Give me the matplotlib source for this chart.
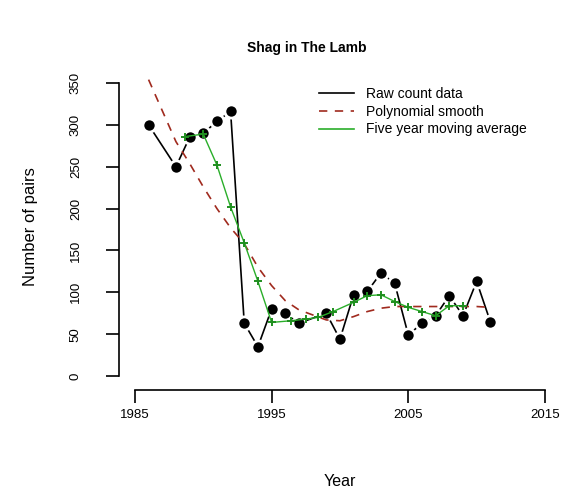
import matplotlib
matplotlib.use("Agg")
import matplotlib.pyplot as plt
from matplotlib.lines import Line2D

plt.rcParams['font.family'] = ['Liberation Sans', 'DejaVu Sans']

# Raw count data
years = [1986, 1988, 1989, 1990, 1991, 1992, 1993, 1994, 1995, 1996, 1997,
         1999, 2000, 2001, 2002, 2003, 2004, 2005, 2006, 2007, 2008, 2009, 2010, 2011]
pairs = [300, 250, 285, 290, 304, 316, 63, 35, 80, 75, 63,
         75, 44, 97, 101, 123, 111, 49, 63, 72, 96, 72, 113, 65]

# Polynomial smooth (evaluated at the data years)
smooth = [354, 280, 254, 226, 200, 177, 158, 130, 108, 90, 79,
          67, 66, 71, 77, 81, 83, 83, 83, 83, 83, 83, 83, 82]

# Five year moving average
ma_years = [1988.7, 1990, 1991, 1992, 1993, 1994, 1995, 1996.4, 1997.5, 1998.4,
            1999.5, 2001, 2002, 2003, 2004, 2005, 2006, 2007, 2008, 2009]
ma_vals = [286, 289, 252, 202, 159, 113, 64, 66, 68, 70,
           77, 88, 96, 97, 89, 82, 77, 72, 84, 84]

x_ticks = [1985, 1995, 2005, 2015]
y_ticks = [0, 50, 100, 150, 200, 250, 300, 350]

title = "Shag in The Lamb"
xlabel = "Year"
ylabel = "Number of pairs"
legend_labels = ["Raw count data", "Polynomial smooth", "Five year moving average"]

W, H = 572, 491
fig = plt.figure(figsize=(W / 100, H / 100), dpi=100)
ax = fig.add_axes([118.5 / W, (H - 390) / H, (561.4 - 118.5) / W, (390 - 69) / H])

red = '#a02a1e'
green = '#2aae2a'
green_dark = '#1f8f1f'

ax.plot(years, pairs, color='black', lw=1.2, zorder=2)
ax.plot(years, pairs, ls='none', marker='o', ms=9.5, mfc='black', mec='white',
        mew=2.0, zorder=3)
ax.plot(years, smooth, color=red, lw=1.2, dashes=(5, 4.5), zorder=4)
ax.plot(ma_years, ma_vals, color=green, lw=1.0, zorder=5)
ax.plot(ma_years, ma_vals, ls='none', marker='+', ms=6, mew=1.4, color=green_dark, zorder=6)

ax.set_xlim(1983.8, 2016.2)
ax.set_ylim(-16.7, 366.7)
for s in ['top', 'right']:
    ax.spines[s].set_visible(False)
ax.spines['left'].set_bounds(0, 350)
ax.spines['bottom'].set_bounds(1985, 2015)
for s in ['left', 'bottom']:
    ax.spines[s].set_linewidth(1.2)

ax.set_xticks(x_ticks)
ax.set_xticklabels([str(v) for v in x_ticks], fontsize=9.5)
ax.set_yticks(y_ticks)
ax.set_yticklabels([str(v) for v in y_ticks], fontsize=9.5, rotation=90, va='center')
ax.tick_params(axis='both', direction='out', length=9.4, width=1.2)
ax.tick_params(axis='x', pad=4)
ax.tick_params(axis='y', pad=17)

handles = [Line2D([], [], color='black', lw=1.2),
           Line2D([], [], color=red, lw=1.2, dashes=(5, 4.5)),
           Line2D([], [], color=green, lw=1.2)]
ax.legend(handles, legend_labels, loc='upper left', bbox_to_anchor=(0.453, 0.945),
          frameon=False, fontsize=10, handlelength=2.5, handletextpad=0.9,
          labelspacing=0.28, borderaxespad=0, borderpad=0)

fig.text(307 / W, 1 - 48 / H, title, ha='center', va='center', fontsize=10,
         fontweight='bold')
fig.text(340 / W, 1 - 481 / H, xlabel, ha='center', va='center', fontsize=11.5)
fig.text(30 / W, 1 - 227 / H, ylabel, ha='center', va='center', fontsize=12,
         rotation=90)

fig.savefig('out.png', dpi=100)
